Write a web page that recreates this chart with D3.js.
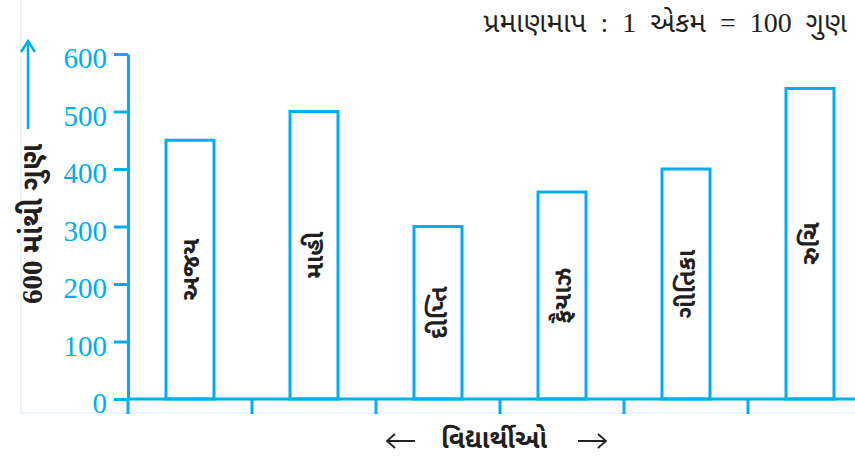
<!DOCTYPE html>
<html>
<head>
<meta charset="utf-8">
<script src="https://cdn.jsdelivr.net/npm/d3@7/dist/d3.min.js"></script>
<style>
html,body{margin:0;padding:0;background:#fff;}
svg{display:block;}
</style>
</head>
<body>
<svg id="chart" width="855" height="461"></svg>
<script>
const students = ["અજય", "માહી", "દીપ્તિ", "ફૈયાઝ", "ગીતિકા", "રુચિ"];
const marks = [450, 500, 300, 360, 400, 540];
const yTicks = [0, 100, 200, 300, 400, 500, 600];
const scaleParts = [["પ્રમાણમાપ", "guj"], ["  :  1  ", "ser"], ["એકમ", "guj"], ["  =  100  ", "ser"], ["ગુણ", "guj"]];
const yTitleParts = [["600 ", "ser"], ["માંથી ગુણ", "guj"]];
const xTitle = "વિદ્યાર્થીઓ";

const BLUE = "#00AEEF";
const DARK = "#231F20";
const GUJ = "'Noto Sans Gujarati','Lohit Gujarati',sans-serif";
const SERIF = "'Liberation Serif','Times New Roman',serif";
const fam = k => k === "guj" ? GUJ : SERIF;

const svg = d3.select("#chart");
const x0 = 128, step = 124;
const x = d3.scaleBand().domain(students).range([x0, x0 + step * students.length]).paddingInner(0.613).paddingOuter(0.3065);
const y = d3.scaleLinear().domain([0, 600]).range([399, 54]);

// faint frame lines
svg.append("line").attr("x1", 21).attr("x2", 21).attr("y1", 0).attr("y2", 413)
  .attr("stroke", "#d6eefa").attr("stroke-width", 1);
svg.append("line").attr("x1", 21).attr("x2", 855).attr("y1", 413).attr("y2", 413)
  .attr("stroke", "#d6eefa").attr("stroke-width", 1);

// bars
svg.append("g").selectAll("rect").data(students).join("rect")
  .attr("x", d => x(d))
  .attr("y", (d, i) => y(marks[i]))
  .attr("width", x.bandwidth())
  .attr("height", (d, i) => y(0) - y(marks[i]))
  .attr("fill", "#fff").attr("stroke", BLUE).attr("stroke-width", 3);

// bar labels
svg.append("g").selectAll("text").data(students).join("text")
  .attr("transform", (d, i) => `translate(${x(d) + x.bandwidth() / 2},${(y(marks[i]) + y(0)) / 2}) rotate(-90)`)
  .attr("text-anchor", "middle").attr("dy", "0.35em")
  .attr("font-family", GUJ).attr("font-size", 25).attr("font-weight", "bold").attr("fill", DARK)
  .text(d => d);

// y axis
const yAxis = d3.axisLeft(y).tickValues(yTicks).tickSize(14).tickPadding(7).tickSizeOuter(0);
const gy = svg.append("g").attr("transform", `translate(${x0},0)`).call(yAxis);
gy.select(".domain").attr("stroke", BLUE).attr("stroke-width", 3);
gy.selectAll(".tick line").attr("stroke", BLUE).attr("stroke-width", 3);
gy.selectAll(".tick text").attr("fill", BLUE).attr("font-family", SERIF).attr("font-size", 29).attr("dy", "0.47em");

// x axis line and ticks
const xTickPos = students.map((d, i) => x0 + i * step);
svg.append("line").attr("x1", x0).attr("x2", 855).attr("y1", y(0)).attr("y2", y(0))
  .attr("stroke", BLUE).attr("stroke-width", 3);
svg.append("g").selectAll("line").data(xTickPos).join("line")
  .attr("x1", d => d).attr("x2", d => d).attr("y1", y(0)).attr("y2", y(0) + 15)
  .attr("stroke", BLUE).attr("stroke-width", 3);

// y arrow
svg.append("line").attr("x1", 28).attr("x2", 28).attr("y1", 44).attr("y2", 129)
  .attr("stroke", BLUE).attr("stroke-width", 2.5);
svg.append("path").attr("d", "M21,52 L28,41 L35,52").attr("fill", "none")
  .attr("stroke", BLUE).attr("stroke-width", 2.5);

// y title
const yt = svg.append("text").attr("transform", "translate(32,224) rotate(-90)")
  .attr("text-anchor", "middle").attr("dy", "0.35em")
  .attr("font-size", 29).attr("font-weight", "bold").attr("fill", DARK);
yt.selectAll("tspan").data(yTitleParts).join("tspan")
  .attr("font-family", d => fam(d[1])).text(d => d[0]);

// scale text
const st = svg.append("text").attr("x", 847).attr("y", 32).attr("text-anchor", "end")
  .attr("font-size", 28).attr("fill", DARK).attr("xml:space", "preserve").style("white-space", "pre");
st.selectAll("tspan").data(scaleParts).join("tspan")
  .attr("font-family", d => fam(d[1]))
  .attr("font-size", 28)
  .text(d => d[0]);

// x title
svg.append("text").attr("x", 494).attr("y", 448).attr("text-anchor", "middle")
  .attr("font-family", GUJ).attr("font-size", 26).attr("font-weight", "bold").attr("fill", DARK)
  .text(xTitle);
// arrows beside x title
const arrowY = 441;
svg.append("path").attr("d", `M387,${arrowY} H415 M395,${arrowY - 7} L387,${arrowY} L395,${arrowY + 7}`)
  .attr("fill", "none").attr("stroke", DARK).attr("stroke-width", 1.8);
svg.append("path").attr("d", `M578,${arrowY} H606 M598,${arrowY - 7} L606,${arrowY} L598,${arrowY + 7}`)
  .attr("fill", "none").attr("stroke", DARK).attr("stroke-width", 1.8);
</script>
</body>
</html>
